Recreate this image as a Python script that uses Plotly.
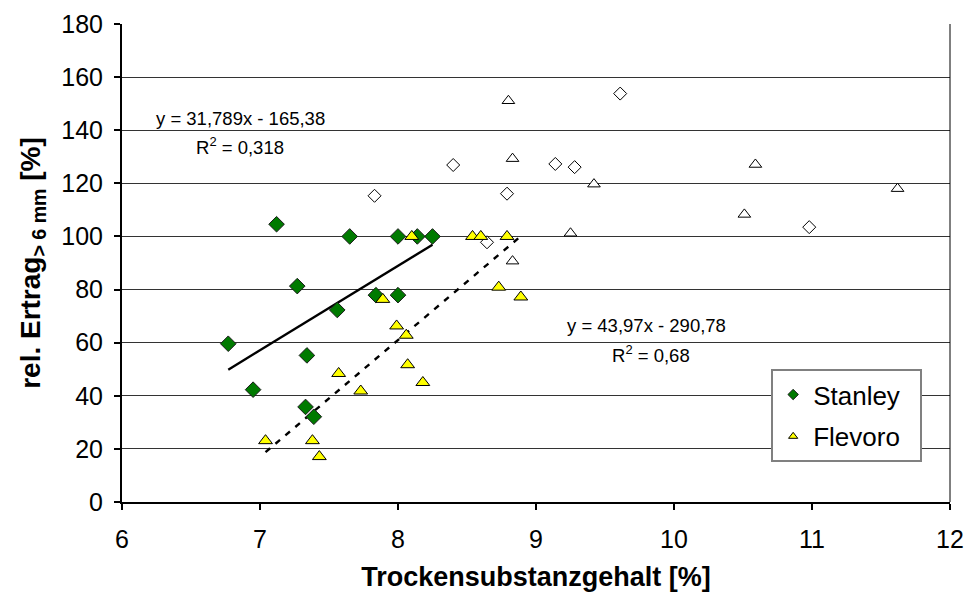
import plotly.graph_objects as go

# Stanley (green diamonds)
stanley_x = [6.77, 6.95, 7.12, 7.27, 7.33, 7.34, 7.39, 7.56, 7.65, 7.84, 8.00, 8.00, 8.14, 8.25]
stanley_y = [59.6, 42.3, 104.6, 81.3, 35.8, 55.2, 32.1, 72.3, 100, 77.9, 100, 77.9, 100, 100]

# Flevoro (yellow triangles)
flevoro_x = [7.04, 7.38, 7.43, 7.57, 7.73, 7.89, 7.99, 8.06, 8.07, 8.10, 8.18, 8.54, 8.60, 8.79, 8.73, 8.89]
flevoro_y = [23.1, 23.1, 17.1, 48.4, 41.8, 76.3, 66.3, 62.8, 51.7, 100, 45.0, 100, 100, 100, 80.9, 77.2]

# unlabeled reference points (open diamonds / open triangles)
open_dia_x = [7.83, 8.40, 8.645, 8.79, 9.14, 9.28, 9.61, 10.98]
open_dia_y = [115.3, 126.9, 97.8, 116.1, 127.3, 126.1, 153.8, 103.5]
open_tri_x = [8.80, 8.83, 8.83, 9.25, 9.42, 10.51, 10.59, 11.62]
open_tri_y = [151.1, 129.3, 90.7, 101.2, 119.7, 108.3, 127.1, 118.0]

# trend lines (slope, intercept)
stanley_fit = (31.789, -165.38)
flevoro_fit = (43.97, -290.78)
eq_labels = ["y = 31,789x - 165,38", "R<sup>2</sup> = 0,318", "y = 43,97x - 290,78", "R<sup>2</sup> = 0,68"]

x_ticks = [6, 7, 8, 9, 10, 11, 12]
y_ticks = [0, 20, 40, 60, 80, 100, 120, 140, 160, 180]

FONT = "Liberation Sans, Arial, sans-serif"

fig = go.Figure()

fig.add_trace(go.Scatter(x=open_dia_x, y=open_dia_y, mode="markers", showlegend=False,
                         marker=dict(symbol="diamond", size=10, color="white",
                                     line=dict(color="black", width=1))))
fig.add_trace(go.Scatter(x=open_tri_x, y=open_tri_y, mode="markers", showlegend=False,
                         marker=dict(symbol="triangle-up", size=11, color="white",
                                     line=dict(color="black", width=1))))

def fit_line(xs, fit):
    x0, x1 = min(xs), max(xs)
    return [x0, x1], [fit[0] * x0 + fit[1], fit[0] * x1 + fit[1]]

lx, ly = fit_line(stanley_x, stanley_fit)
fig.add_trace(go.Scatter(x=lx, y=ly, mode="lines", showlegend=False,
                         line=dict(color="black", width=2.4)))
lx, ly = fit_line(flevoro_x, flevoro_fit)
fig.add_trace(go.Scatter(x=lx, y=ly, mode="lines", showlegend=False,
                         line=dict(color="black", width=2.4, dash="6px,7px")))

GREEN = "#007a00"
YELLOW = "#ffff00"
fig.add_trace(go.Scatter(x=stanley_x, y=stanley_y, mode="markers", showlegend=False,
                         marker=dict(symbol="diamond", size=12, color=GREEN,
                                     line=dict(color="#1a1a1a", width=1))))
fig.add_trace(go.Scatter(x=flevoro_x, y=flevoro_y, mode="markers", showlegend=False,
                         marker=dict(symbol="triangle-up", size=12, color=YELLOW,
                                     line=dict(color="black", width=1))))

# legend entries (small legend symbols as in the reference)
fig.add_trace(go.Scatter(x=[None], y=[None], mode="markers", name="Stanley  ", legendgroup="a",
                         marker=dict(symbol="diamond", size=8, color=GREEN,
                                     line=dict(color="#1a1a1a", width=1))))
fig.add_trace(go.Scatter(x=[None], y=[None], mode="markers", name="Flevoro  ", legendgroup="b",
                         marker=dict(symbol="triangle-up", size=8, color=YELLOW,
                                     line=dict(color="black", width=1))))

ann_font = dict(family=FONT, size=18.5, color="black")
fig.add_annotation(x=6.856, y=144.6, text=eq_labels[0], showarrow=False, font=ann_font)
fig.add_annotation(x=6.856, y=134.0, text=eq_labels[1], showarrow=False, font=ann_font)
fig.add_annotation(x=9.80, y=66.3, text=eq_labels[2], showarrow=False, font=ann_font)
fig.add_annotation(x=9.836, y=55.7, text=eq_labels[3], showarrow=False, font=ann_font)

# thin right border of plot area
fig.add_shape(type="line", xref="paper", yref="paper", x0=1, x1=1, y0=0, y1=1,
              line=dict(color="black", width=1))

fig.update_layout(
    width=965, height=593,
    margin=dict(l=122, r=15, t=24, b=91),
    paper_bgcolor="white", plot_bgcolor="white",
    font=dict(family=FONT, color="black", size=24),
    legend=dict(x=0.784, y=0.278, xanchor="left", yanchor="top",
                bgcolor="white", bordercolor="#808080", borderwidth=2,
                font=dict(family=FONT, size=26), tracegroupgap=5),
    xaxis=dict(range=[6, 12], tickvals=x_ticks, ticks="outside", ticklen=6, tickwidth=2,
               tickcolor="black", showline=True, linecolor="black", linewidth=2,
               showgrid=False, zeroline=False, automargin=False, ticklabelstandoff=8,
               tickfont=dict(family=FONT, size=25),
               title=dict(text="<b>Trockensubstanzgehalt [%]</b>",
                          font=dict(family=FONT, size=27), standoff=15)),
    yaxis=dict(range=[0, 180], tickvals=y_ticks, ticks="outside", ticklen=6, tickwidth=2,
               tickcolor="black", showline=True, linecolor="black", linewidth=2,
               showgrid=True, gridcolor="#333333", gridwidth=1, zeroline=False,
               automargin=False, ticklabelstandoff=6,
               tickfont=dict(family=FONT, size=25),
               title=dict(text="<b>rel. Ertrag<sub>&gt; 6 mm</sub> [%]</b>",
                          font=dict(family=FONT, size=28), standoff=12)),
)

fig.write_html("out.html")
